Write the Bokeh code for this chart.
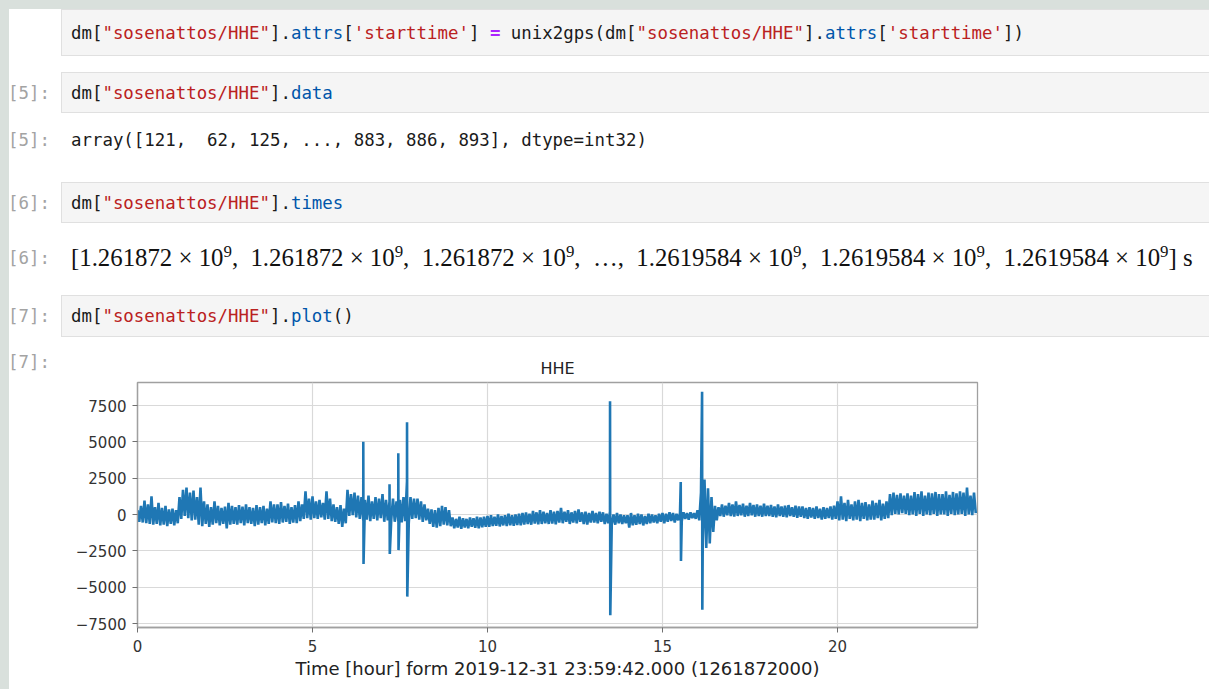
from bokeh.plotting import figure
from bokeh.models import Div, FixedTicker, Range1d, ColumnDataSource
from bokeh.layouts import column, row
from bokeh.embed import file_html
from bokeh.resources import INLINE

# ---------------- data ----------------
title_text = "HHE"
x_label = "Time [hour] form 2019-12-31 23:59:42.000 (1261872000)"
x_ticks = [0, 5, 10, 15, 20]
y_ticks = [-7500, -5000, -2500, 0, 2500, 5000, 7500]
y_tick_labels = ["\u22127500", "\u22125000", "\u22122500", "0", "2500", "5000", "7500"]

sample_step_hours = 0.05
noise_counts = [
    # hour 0
    300, -500, 600, -550, 950, -600, 700, -650, 1250, -700, 500, -650, 800, -750, 450, -700, 600, -800, 350, -650,
    # hour 1
    400, -750, 300, -600, 1200, -300, 1700, -100, 1850, -250, 1500, -400, 1650, -350, 1200, -700, 1850, -800, 900, -650,
    # hour 2
    700, -850, 500, -700, 900, -600, 600, -750, 450, -650, 550, -950, 800, -700, 600, -650, 500, -700, 650, -600,
    # hour 3
    550, -750, 700, -600, 500, -650, 450, -800, 650, -700, 500, -600, 600, -750, 400, -650, 900, -550, 700, -600,
    # hour 4
    700, -650, 850, -550, 600, -500, 750, -650, 500, -550, 650, -600, 900, -450, 700, -300, 1600, -250, 1100, -350,
    # hour 5
    1250, -250, 900, -300, 1000, -200, 800, -350, 1600, -300, 1100, -450, 700, -500, 500, -650, 650, -850, 400, -600,
    # hour 6
    1700, -100, 1400, -50, 1500, -200, 1300, -300, 1200, -400, 1000, -350, 1300, -450, 900, -300, 1200, -400, 1100, -250,
    # hour 7
    1400, -500, 1000, -400, 900, -350, 1100, -500, 900, -450, 1000, -550, 1200, -450, 2300, -600, 1200, -300, 1100, -250,
    # hour 8
    1100, -350, 900, -500, 700, -400, 400, -650, 350, -850, 300, -900, 450, -800, 600, -700, 500, -750, 300, -800,
    # hour 9
    -200, -950, -300, -900, -150, -980, -250, -900, -300, -950, -200, -850, -250, -920, -150, -950, -200, -880, -150, -850,
    # hour 10
    -100, -850, -50, -800, -150, -780, 0, -820, -100, -750, -50, -800, 50, -750, -50, -780, 0, -720, 50, -750,
    # hour 11
    100, -700, 150, -650, 50, -700, 250, -620, 150, -680, 300, -650, 200, -600, 100, -650, 300, -620, 200, -680,
    # hour 12
    250, -550, 450, -600, 200, -500, 300, -650, 150, -550, 250, -600, 350, -500, 150, -650, 200, -700, 100, -550,
    # hour 13
    250, -550, 100, -600, 200, -500, 150, -650, 50, -600, 200, -650, 0, -700, 100, -600, 0, -650, -50, -600,
    # hour 14
    -50, -900, 100, -750, -50, -700, 50, -650, 0, -750, -100, -650, 50, -600, 0, -550, -50, -600, 50, -500,
    # hour 15
    100, -600, 50, -500, 150, -450, 100, -550, 50, -400, 100, -450, 150, -300, 100, -350, 150, -250, 100, -300,
    # hour 16
    300, -400, 1500, -1800, 2400, -2300, 1800, -2000, 1200, -1200, 600, -400, 500, -100, 700, -150, 600, -50, 800, -100,
    # hour 17
    700, -150, 900, -100, 650, -50, 750, -150, 600, -100, 800, -50, 650, -150, 700, -100, 600, -150, 750, -100,
    # hour 18
    600, -100, 650, -150, 550, -200, 700, -100, 550, -150, 600, -200, 650, -100, 500, -150, 600, -230, 550, -150,
    # hour 19
    550, -250, 450, -300, 500, -200, 450, -300, 550, -250, 400, -350, 500, -300, 450, -250, 550, -350, 600, -300,
    # hour 20
    900, -400, 1250, -350, 800, -450, 1000, -300, 700, -400, 900, -350, 1000, -450, 800, -300, 850, -400, 700, -350,
    # hour 21
    950, -350, 800, -250, 1000, -400, 750, -300, 900, -250, 1400, -50, 1500, 50, 1350, 0, 1450, 100, 1300, 50,
    # hour 22
    1450, -50, 1300, 0, 1550, -100, 1400, 50, 1600, -100, 1300, 0, 1500, -50, 1450, 50, 1550, -100, 1400, 0,
    # hour 23
    1400, 0, 1600, -100, 1350, 50, 1550, -50, 1450, 0, 1600, 50, 1500, -100, 1850, 0, 1300, -50, 1500, 100,
]
spike_hours = [6.45, 7.20, 7.45, 7.70, 13.50, 15.52, 16.13]
spike_max = [5000, 2090, 4220, 6350, 7800, 2230, 8450]
spike_min = [-3400, -2720, -2450, -5650, -6930, -3200, -6550]

# merge the regular samples with the spike excursions
points = [(i * sample_step_hours, v) for i, v in enumerate(noise_counts)]
for h, hi, lo in zip(spike_hours, spike_max, spike_min):
    points.append((h + 0.001, hi))
    points.append((h + 0.008, lo))
points.sort(key=lambda q: q[0])
src = ColumnDataSource(dict(hour=[q[0] for q in points], counts=[q[1] for q in points]))

# ---------------- notebook cells ----------------
MONO = "'DejaVu Sans Mono', monospace"
RED = "#ba2121"
BLUE = "#0055aa"
PURPLE = "#aa22ff"
TXT = "#1a1a1a"
PROMPT = "#a3a3a3"
BACK = "#d9e0dc"


def sp(t, c, bold=False):
    w = "font-weight:bold;" if bold else ""
    return f'<span style="color:{c};{w}">{t}</span>'


KEY = sp('"sosenattos/HHE"', RED)
line1 = ("dm[" + KEY + "]." + sp("attrs", BLUE) + "[" + sp("'starttime'", RED) + "] "
         + sp("=", PURPLE, True) + " unix2gps(dm[" + KEY + "]." + sp("attrs", BLUE)
         + "[" + sp("'starttime'", RED) + "])")
line2 = "dm[" + KEY + "]." + sp("data", BLUE)
line3 = "dm[" + KEY + "]." + sp("times", BLUE)
line4 = "dm[" + KEY + "]." + sp("plot", BLUE) + "()"
out5 = "array([121,  62, 125, ..., 883, 886, 893], dtype=int32)"
sup9 = '<sup style="font-size:68%;vertical-align:0.55em;line-height:0">9</sup>'
n1 = "1.261872&#8197;&#215;&#8197;10" + sup9
n2 = "1.2619584&#8197;&#215;&#8197;10" + sup9
sep = ",&#8197; "
out6 = "[" + sep.join([n1, n1, n1, "&#8230;", n2, n2, n2]) + "]&#8197;s"


def box(top, h):
    return (f'<div style="position:absolute;left:61px;top:{top}px;width:1148px;height:{h}px;'
            f'background:#f5f5f5;border:1px solid #e0e0e0;border-right:none;box-sizing:border-box"></div>')


def txt(top, left, html, color=TXT, size="17.4px", fam=MONO, lh=20):
    return (f'<div style="position:absolute;left:{left}px;top:{top}px;white-space:pre;'
            f'font-family:{fam};font-size:{size};line-height:{lh}px;color:{color}">{html}</div>')


cells_html = (
    '<div style="position:relative;width:1209px;height:345px;background:#ffffff;overflow:hidden">'
    f'<div style="position:absolute;left:0;top:0;width:1209px;height:9px;background:{BACK}"></div>'
    f'<div style="position:absolute;left:0;top:0;width:9px;height:345px;background:{BACK}"></div>'
    + box(9, 47) + txt(23, 71, line1)
    + txt(83, 8, "[5]:", PROMPT) + box(72, 41) + txt(83, 71, line2)
    + txt(130, 8, "[5]:", PROMPT) + txt(130, 71, out5)
    + txt(193, 8, "[6]:", PROMPT) + box(182, 41) + txt(193, 71, line3)
    + txt(248, 8, "[6]:", PROMPT) + txt(243, 71, out6, "#111111", "24.8px", "'Liberation Serif', serif", 30)
    + txt(306, 8, "[7]:", PROMPT) + box(295, 42) + txt(306, 71, line4)
    + '</div>'
)
cells = Div(text=cells_html, width=1209, height=345, margin=0)

prompt7 = Div(text=('<div style="position:relative;width:68px;height:344px;background:#ffffff">'
                    f'<div style="position:absolute;left:0;top:0;width:9px;height:344px;background:{BACK}"></div>'
                    + txt(7, 8, "[7]:", PROMPT) + '</div>'),
              width=68, height=344, margin=0)

# ---------------- figure ----------------
p = figure(width=1141, height=344, output_backend="svg", toolbar_location=None,
           x_range=Range1d(0, 24), y_range=Range1d(-7775, 9083),
           min_border_left=69, min_border_right=232, min_border_top=37, min_border_bottom=62,
           background_fill_color="white", border_fill_color="white")
p.line("hour", "counts", source=src, line_color="#1f77b4", line_width=2.6)

p.title.text = title_text
p.title.align = "center"
p.title.text_font = "DejaVu Sans"
p.title.text_font_size = "16px"
p.title.text_font_style = "normal"
p.title.text_color = "#222222"
p.title.standoff = 10

p.xaxis.ticker = FixedTicker(ticks=x_ticks)
p.yaxis.ticker = FixedTicker(ticks=y_ticks)
p.yaxis.major_label_overrides = {t: l for t, l in zip(y_ticks, y_tick_labels)}
p.xaxis.axis_label = x_label

for ax in (p.xaxis, p.yaxis):
    ax.major_label_text_font = "DejaVu Sans"
    ax.major_label_text_font_size = "15px"
    ax.major_label_text_color = "#333333"
    ax.axis_line_color = "#a0a0a0"
    ax.axis_line_width = 1.3
    ax.major_tick_line_color = "#707070"
    ax.major_tick_out = 5
    ax.major_tick_in = 0
    ax.minor_tick_line_color = None
p.xaxis.major_label_standoff = 7
p.yaxis.major_label_standoff = 6
p.xaxis.axis_label_text_font = "DejaVu Sans"
p.xaxis.axis_label_text_font_size = "18px"
p.xaxis.axis_label_text_font_style = "normal"
p.xaxis.axis_label_text_color = "#222222"
p.xaxis.axis_label_standoff = 3

p.grid.grid_line_color = "#d9d9d9"
p.grid.grid_line_width = 1.2
p.outline_line_color = "#a0a0a0"
p.outline_line_width = 1.3

layout = column(cells, row(prompt7, p, spacing=0), spacing=0)

open("out.html", "w").write(file_html(layout, INLINE))
